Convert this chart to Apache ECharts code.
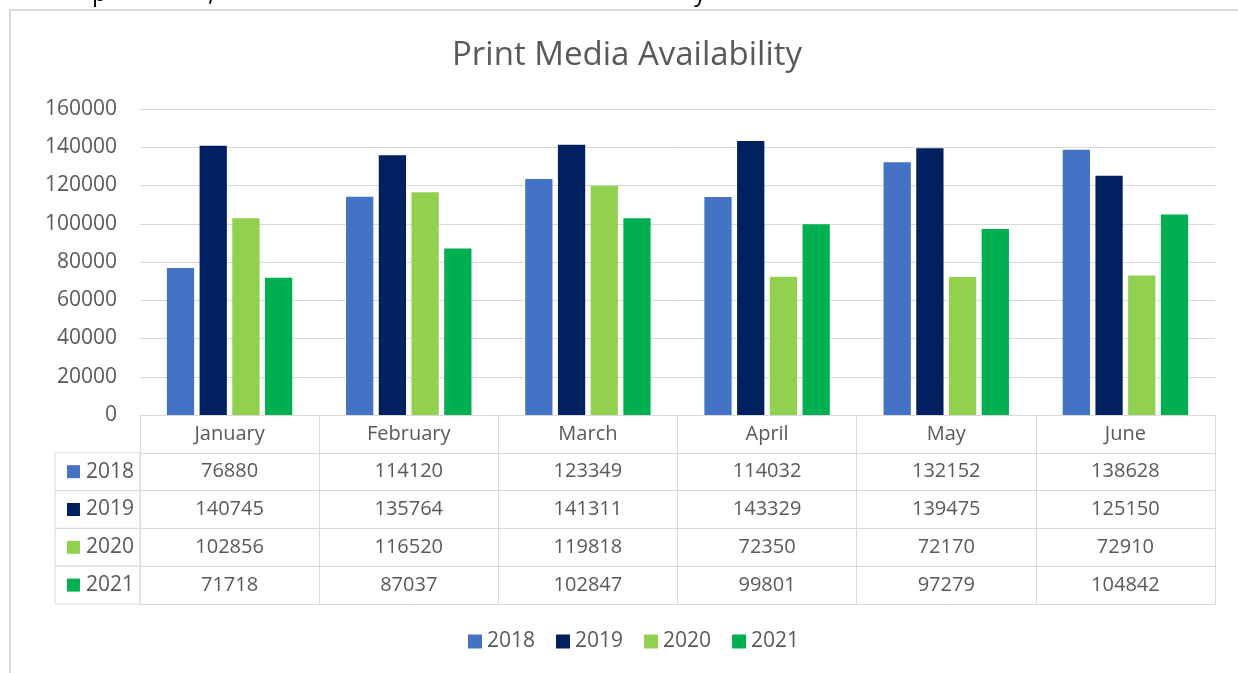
<!DOCTYPE html>
<html>
<head>
<meta charset="utf-8">
<script src="https://cdn.jsdelivr.net/npm/echarts@6/dist/echarts.min.js"></script>
<style>
  html, body { margin: 0; padding: 0; background: #fff; }
  #app { width: 1238px; height: 673px; }
</style>
</head>
<body>
<div id="app"></div>
<script>
(function() {
  // 月份
  const months = ["January", "February", "March", "April", "May", "June"];
  // 年份（系列）
  const years = ["2018", "2019", "2020", "2021"];
  const colors = ["#4472C4", "#002060", "#92D050", "#00B050"];
  // 各年数据
  const v2018 = [76880, 114120, 123349, 114032, 132152, 138628];
  const v2019 = [140745, 135764, 141311, 143329, 139475, 125150];
  const v2020 = [102856, 116520, 119818, 72350, 72170, 72910];
  const v2021 = [71718, 87037, 102847, 99801, 97279, 104842];
  const values = [v2018, v2019, v2020, v2021];
  // y轴刻度
  const yTicks = [0, 20000, 40000, 60000, 80000, 100000, 120000, 140000, 160000];

  const textColor = "#595959";
  const lineColor = "#d9d9d9";
  const rowH = 37.8;
  const font = "Open Sans";

  /**
   * 数据表的一行（用一个x轴来画）
   */
  function tableRow(i) {
    const rich = {
      sq: { width: 13, height: 13, backgroundColor: colors[i] },
      t: { fontSize: 21, color: textColor, fontFamily: font, padding: [0, 0, 0, 6] }
    };
    return {
      type: "category",
      gridIndex: 0,
      position: "bottom",
      offset: rowH * (i + 1),
      data: values[i].map(v => String(v)),
      name: "{sq|}{t|" + years[i] + "}",
      nameLocation: "start",
      nameGap: 0,
      nameTextStyle: {
        align: "right",
        verticalAlign: "top",
        height: rowH,
        lineHeight: rowH,
        padding: [0, 6, 0, 12],
        borderColor: lineColor,
        borderWidth: 1,
        rich
      },
      axisLine: { lineStyle: { color: lineColor, width: 1 } },
      axisTick: { show: true, length: rowH, lineStyle: { color: lineColor, width: 1 } },
      axisLabel: {
        fontSize: 20,
        color: textColor,
        fontFamily: font,
        margin: rowH / 2,
        verticalAlign: "middle"
      }
    };
  }

  const xAxes = [
    {
      type: "category",
      gridIndex: 0,
      position: "bottom",
      data: months,
      axisLine: { lineStyle: { color: lineColor, width: 1 } },
      axisTick: { show: true, length: rowH, lineStyle: { color: lineColor, width: 1 } },
      axisLabel: {
        fontSize: 20,
        color: textColor,
        fontFamily: font,
        margin: rowH / 2,
        verticalAlign: "middle"
      }
    }
  ];
  years.forEach((y, i) => xAxes.push(tableRow(i)));
  // 表格底线
  xAxes.push({
    type: "category",
    gridIndex: 0,
    position: "bottom",
    offset: rowH * 5,
    data: months,
    axisLine: { lineStyle: { color: lineColor, width: 1 } },
    axisTick: { show: false },
    axisLabel: { show: false }
  });

  const series = years.map((y, i) => ({
    name: y,
    type: "bar",
    xAxisIndex: 0,
    yAxisIndex: 0,
    barGap: "20%",
    barCategoryGap: "30%",
    itemStyle: { color: colors[i] },
    data: values[i]
  }));

  const myChart = echarts.init(document.getElementById("app"));
  const option = {
    animation: false,
    textStyle: { fontFamily: font },
    title: {
      text: "Print Media Availability",
      left: 447,
      top: 34,
      textStyle: { fontSize: 33, fontWeight: "normal", color: textColor, fontFamily: font }
    },
    legend: {
      bottom: 16,
      left: 463,
      icon: "rect",
      itemWidth: 14,
      itemHeight: 14,
      itemGap: 21,
      textStyle: { fontSize: 21, color: textColor, fontFamily: font },
      data: years
    },
    grid: {
      left: 140,
      right: 23,
      top: 109,
      bottom: 258,
      outerBoundsMode: "none"
    },
    xAxis: xAxes,
    yAxis: {
      type: "value",
      min: yTicks[0],
      max: yTicks[yTicks.length - 1],
      interval: yTicks[1] - yTicks[0],
      axisLine: { show: false },
      axisTick: { show: false },
      axisLabel: {
        fontSize: 21,
        color: textColor,
        fontFamily: font,
        margin: 23,
        formatter: v => String(v)
      },
      splitLine: { lineStyle: { color: lineColor, width: 1 } }
    },
    graphic: [
      {
        type: "rect",
        silent: true,
        shape: { x: 10, y: 10, width: 1400, height: 800 },
        style: { fill: "none", stroke: lineColor, lineWidth: 2 }
      },
      // 上方文档残留文字
      { type: "text", x: 92, y: -18, style: { text: "p", fontSize: 24, fill: "#000", fontFamily: font } },
      { type: "text", x: 208, y: -18, style: { text: ",", fontSize: 24, fill: "#000", fontFamily: font } },
      { type: "text", x: 694, y: -18, style: { text: "y", fontSize: 24, fill: "#000", fontFamily: font } }
    ],
    series
  };
  myChart.setOption(option);
})();
</script>
</body>
</html>
